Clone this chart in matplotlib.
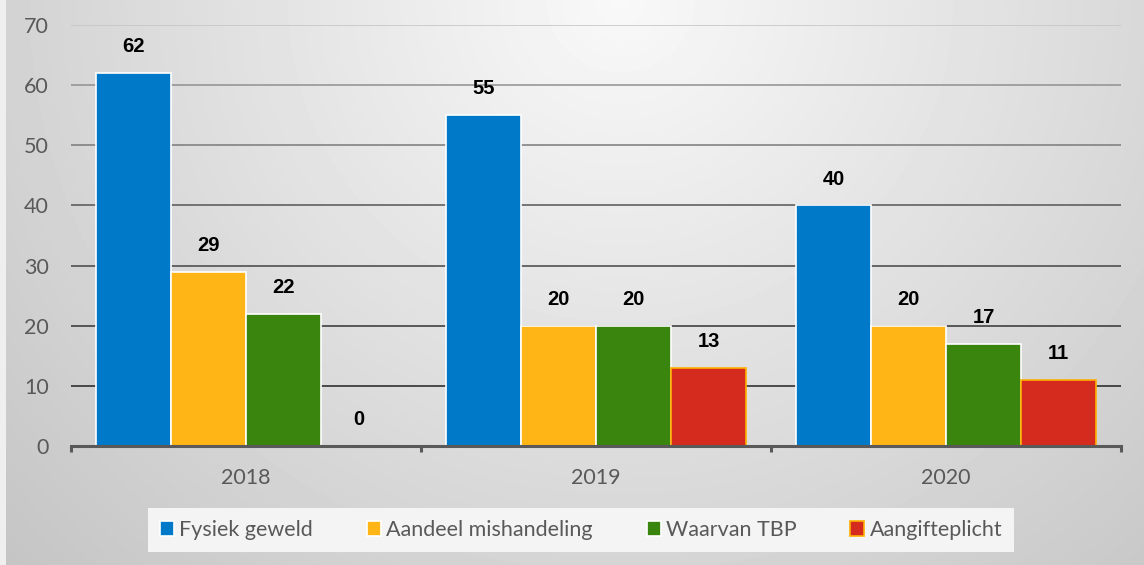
import numpy as np
import matplotlib
matplotlib.use("Agg")
import matplotlib.pyplot as plt
import matplotlib.patches as mpatches

years = ["2018", "2019", "2020"]
series = ["Fysiek geweld", "Aandeel mishandeling", "Waarvan TBP", "Aangifteplicht"]
fysiek = [62, 55, 40]
aandeel = [29, 20, 20]
tbp = [22, 20, 17]
aangifte = [0, 13, 11]
yticks = [0, 10, 20, 30, 40, 50, 60, 70]

colors = ["#0079c8", "#ffb516", "#3a850e", "#d52b1e"]
edges = ["white", "white", "white", "#ffb000"]
grid_colors = ["#222222", "#222222", "#333333", "#444444", "#555555", "#7a7a7a", "#909090", "#c4c4c4"]
txt_gray = "#595959"

plt.rcParams["font.family"] = ["Lato", "DejaVu Sans"]

fig = plt.figure(figsize=(11.44, 5.65), dpi=100)

# radial gray background
bg = fig.add_axes([0, 0, 1, 1], zorder=-2)
H, W = 565, 1144
yy, xx = np.mgrid[0:H, 0:W]
d = np.sqrt(((xx - 620) / 620.0) ** 2 + (yy / 600.0) ** 2)
shade = np.clip(0.975 - 0.15 * d, 0.74, 1.0)
bg.imshow(shade, cmap="gray", vmin=0, vmax=1, extent=[0, W, H, 0], aspect="auto")
bg.add_patch(mpatches.Rectangle((0, 0), 6, H, color="#efefef", lw=0))
bg.set_xlim(0, W)
bg.set_ylim(H, 0)
bg.axis("off")

ax = fig.add_axes([71 / 1144, 1 - 446 / 565, 1050 / 1144, 421 / 565])
ax.set_facecolor("none")

x = np.arange(len(years))
w = 0.2143
data = [fysiek, aandeel, tbp, aangifte]
for i, vals in enumerate(data):
    pos = x + (i - 1.5) * w
    bars = ax.bar(pos, vals, w, color=colors[i], edgecolor=edges[i], linewidth=1.2,
                  label=series[i], zorder=2)
    for b, v in zip(bars, vals):
        ax.annotate(str(v), (b.get_x() + b.get_width() / 2, v), xytext=(0, 19),
                    textcoords="offset points", ha="center", va="center",
                    fontsize=14.5, fontweight="bold", color="black",
                    family=["Liberation Sans", "DejaVu Sans"])

for t, c in zip(yticks[1:], grid_colors[1:]):
    ax.axhline(t, color=c, lw=1.1, zorder=1)

ax.set_xlim(-0.5, 2.5)
ax.set_ylim(0, 70)
ax.set_yticks(yticks)
ax.set_xticks(x)
ax.set_xticklabels(years)
ax.set_xticks([-0.5, 0.5, 1.5, 2.5], minor=True)
ax.tick_params(axis="x", which="major", length=0, pad=16, labelsize=15.5, labelcolor=txt_gray)
ax.tick_params(axis="x", which="minor", length=4.5, width=2.2, color=txt_gray)
ax.tick_params(axis="y", length=0, pad=16, labelsize=15.5, labelcolor=txt_gray)

for s in ["top", "right", "left"]:
    ax.spines[s].set_visible(False)
ax.spines["bottom"].set_color(txt_gray)
ax.spines["bottom"].set_linewidth(2.2)
ax.spines["bottom"].set_zorder(3)

leg = fig.legend(loc="center", bbox_to_anchor=(0.508, 0.062), ncol=4, frameon=True,
                 fontsize=15.5, handlelength=0.65, handleheight=0.65, handletextpad=0.25,
                 columnspacing=2.5, borderpad=0.55, borderaxespad=0, fancybox=False)
leg.get_frame().set_facecolor("#f4f4f4")
leg.get_frame().set_edgecolor("none")
leg.get_frame().set_alpha(1)
for t in leg.get_texts():
    t.set_color(txt_gray)

fig.savefig("out.png", dpi=100)
